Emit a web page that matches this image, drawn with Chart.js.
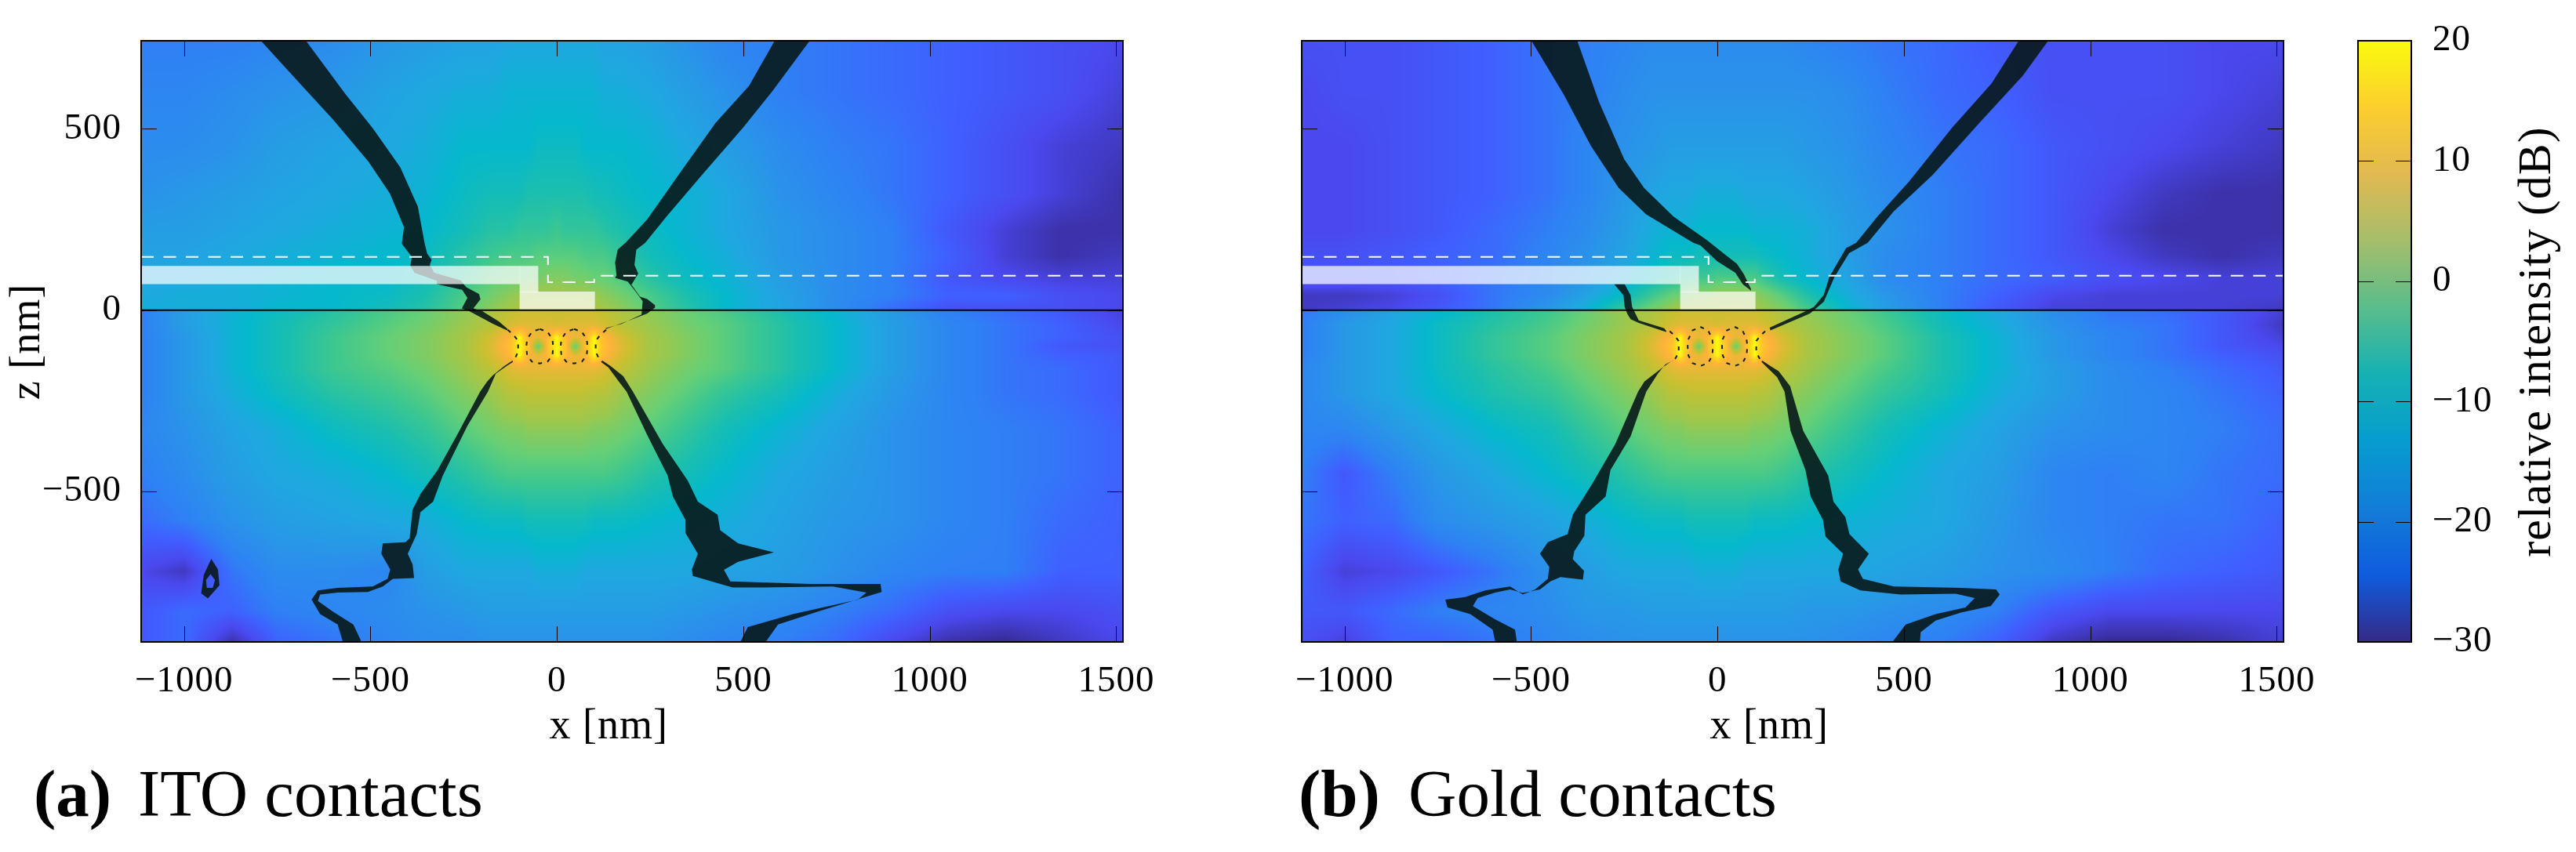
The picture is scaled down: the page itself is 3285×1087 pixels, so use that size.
<!DOCTYPE html>
<html>
<head>
<meta charset="utf-8">
<title>ITO and gold contacts</title>
<script src="https://cdn.jsdelivr.net/npm/chart.js@4"></script>
<style>
  html, body { margin: 0; padding: 0; background: #fff; }
  body { position: relative; width: 3285px; height: 1087px; overflow: hidden; }
  canvas { position: absolute; top: 0; }
</style>
</head>
<body>
<canvas id="chartA" width="1500" height="1087" style="left:0"></canvas>
<canvas id="chartB" width="1400" height="1087" style="left:1600px"></canvas>
<canvas id="chartC" width="335" height="1087" style="left:2950px"></canvas>
<script>
const xMin = -1115, xMax = 1518, zMin = -915, zMax = 743;
const xTicks = [-1000, -500, 0, 500, 1000, 1500];
const zTicks = [-500, 0, 500];
const cbarTicks = [-30, -20, -10, 0, 10, 20];

// colorbar
const cbarValues = [-30, -24.44, -18.89, -13.33, -7.78, -2.22, 3.33, 8.89, 14.44, 20];
const cbarColors = ["#352a87", "#0f5cdd", "#127dd8", "#079ccf", "#15b1b4", "#59bd8c", "#a5be6b", "#e1b952", "#fcce2e", "#f9fb0e"];

// colours of the field itself, brighter in the blues than the bar
const heatValues = [-30, -26, -23, -20, -16, -13, -10, -7, -4, -1, 3, 8, 13, 17, 20];
const heatColors = ["#372a92", "#4a48ee", "#3f60ff", "#2f80f5", "#2898e6", "#1fa8e0", "#05b8cc", "#1cbfae", "#3dc790", "#66cf76", "#9bc84e", "#c9c030", "#ffb23a", "#ffd020", "#fbfb0e"];

// field grid, dB
const gridX = [-1115, -1000, -870, -750, -600, -450, -350, -250, -175, -125, -100, -75, -50, -25, 0, 25, 50, 75, 100, 125, 175, 250, 350, 450, 600, 750, 900, 1050, 1200, 1350, 1518];
const gridZ = [743, 600, 450, 320, 220, 150, 90, 40, 1, -1, -40, -75, -100, -125, -160, -230, -330, -450, -580, -720, -830, -915];

const heatA = [
  [-20,-20,-20,-19,-18,-16,-15,-14,-14,-13,-13,-13,-13,-13,-13,-13,-13,-13,-13,-14,-14,-15,-17,-19,-20,-21,-22,-23,-24,-25,-26],
  [-19,-19,-18,-17,-16,-14,-13,-12,-12,-11,-11,-11,-11,-11,-11,-11,-11,-11,-11,-12,-12,-13,-15,-17,-20,-21,-22,-23,-24,-25,-27],
  [-18,-18,-17,-15,-14,-13,-12,-10,-10,-10,-10,-10,-9,-9,-9,-9,-9,-10,-10,-10,-10,-11,-13,-15,-18,-20,-21,-23,-25,-27,-28],
  [-17,-16,-15,-14,-13,-12,-11,-9,-8,-8,-8,-7,-7,-7,-7,-7,-7,-7,-8,-8,-9,-10,-11,-13,-17,-19,-21,-23,-25,-27,-29],
  [-15,-15,-14,-13,-12,-11,-10,-8,-6,-6,-5,-5,-5,-5,-4,-5,-5,-5,-5,-6,-7,-9,-11,-13,-16,-18,-20,-24,-27,-29,-29],
  [-14,-14,-13,-12,-11,-10,-9,-6,-4,-3,-3,-3,-2,-2,-2,-2,-2,-3,-3,-3,-5,-8,-10,-12,-16,-18,-20,-23,-27,-29,-28],
  [-13,-13,-12,-11,-10,-10,-8,-5,-2,-1,-1,0,0,1,1,1,0,0,-1,-1,-3,-6,-9,-11,-15,-18,-20,-24,-26,-27,-27],
  [-13,-12,-12,-11,-10,-9,-7,-3,0,2,3,4,4,4,4,4,4,4,3,2,0,-3,-7,-10,-14,-18,-20,-23,-23,-25,-26],
  [-12,-12,-12,-10,-10,-8,-6,-2,2,4,5,6,6,6,6,6,6,6,5,4,2,-2,-6,-10,-14,-18,-22,-25,-25,-25,-26],
  [-20,-15,-11,-9,-6,-3,-1,2,5,7,8,8,8,8,8,8,8,8,8,7,5,2,-1,-3,-7,-11,-16,-20,-22,-24,-27],
  [-20,-15,-11,-8,-5,-2,0,3,6,9,10,10,10,10,9,10,10,10,10,9,6,3,0,-2,-6,-10,-15,-19,-21,-23,-26],
  [-20,-16,-11,-8,-4,-1,1,4,9,14,20,13,11,14,20,14,11,13,20,14,9,4,1,-2,-6,-10,-15,-19,-21,-23,-25],
  [-20,-16,-11,-8,-4,-1,1,4,10,15,20,15,-2,15,20,15,-2,15,20,15,10,4,1,-2,-6,-10,-15,-19,-21,-24,-25],
  [-20,-16,-11,-8,-4,-1,1,4,9,14,20,13,11,14,20,14,11,13,20,14,9,4,1,-2,-6,-10,-15,-19,-21,-23,-24],
  [-20,-16,-11,-8,-4,-2,0,3,7,10,11,11,11,11,11,11,11,11,11,10,7,3,0,-2,-6,-10,-15,-19,-21,-22,-24],
  [-20,-16,-12,-9,-6,-4,-2,1,3,6,6,7,7,7,7,7,7,7,6,6,3,1,-2,-5,-8,-12,-16,-19,-21,-22,-24],
  [-19,-17,-14,-12,-9,-7,-5,-2,0,1,1,2,2,2,2,2,2,2,1,1,0,-2,-5,-8,-11,-14,-17,-19,-20,-21,-23],
  [-20,-18,-15,-13,-12,-10,-8,-6,-4,-3,-3,-3,-3,-3,-3,-3,-3,-3,-3,-3,-4,-6,-8,-10,-13,-15,-17,-19,-20,-21,-23],
  [-22,-20,-17,-15,-14,-13,-12,-10,-9,-9,-9,-8,-8,-8,-8,-8,-8,-8,-9,-9,-9,-10,-11,-12,-14,-16,-17,-19,-20,-22,-23],
  [-26,-28,-21,-18,-18,-19,-15,-13,-13,-13,-13,-13,-12,-12,-12,-12,-12,-13,-13,-13,-13,-13,-13,-14,-15,-17,-19,-20,-20,-23,-23],
  [-24,-22,-23,-20,-19,-18,-17,-16,-15,-15,-15,-15,-15,-15,-15,-15,-15,-15,-15,-15,-15,-15,-16,-17,-18,-20,-22,-25,-26,-26,-25],
  [-24,-22,-29,-23,-21,-19,-18,-18,-17,-17,-17,-17,-17,-17,-17,-17,-17,-17,-17,-17,-17,-17,-18,-19,-20,-22,-26,-29,-30,-28,-26]
];

const heatB = [
  [-25,-25,-25,-24,-23,-21,-20,-19,-18,-18,-18,-18,-18,-18,-18,-18,-18,-18,-18,-18,-18,-19,-20,-21,-22,-24,-25,-25,-25,-26,-26],
  [-26,-25,-25,-24,-23,-21,-20,-18,-17,-17,-17,-17,-17,-17,-17,-17,-17,-17,-17,-17,-17,-17,-18,-20,-22,-23,-25,-25,-25,-26,-27],
  [-26,-26,-25,-24,-23,-21,-19,-17,-16,-15,-15,-15,-15,-15,-15,-15,-15,-15,-15,-15,-15,-16,-17,-19,-21,-22,-24,-25,-26,-27,-28],
  [-26,-26,-25,-24,-23,-21,-19,-16,-14,-13,-13,-13,-12,-12,-12,-12,-12,-13,-13,-13,-13,-14,-16,-18,-20,-22,-24,-26,-28,-29,-29],
  [-26,-26,-25,-24,-22,-20,-18,-15,-12,-11,-11,-11,-10,-10,-10,-10,-10,-10,-11,-11,-11,-12,-15,-17,-20,-22,-24,-27,-29,-29,-29],
  [-25,-25,-24,-23,-22,-19,-17,-14,-11,-9,-9,-9,-8,-8,-8,-8,-8,-8,-8,-9,-10,-12,-15,-18,-20,-22,-24,-26,-28,-29,-28],
  [-24,-24,-24,-23,-21,-19,-16,-12,-9,-7,-6,-5,-4,-4,-3,-3,-3,-3,-3,-5,-8,-11,-14,-18,-20,-22,-23,-25,-26,-27,-27],
  [-28,-28,-27,-25,-21,-18,-14,-9,-4,-1,0,1,2,2,3,3,3,3,2,1,-2,-7,-12,-16,-20,-23,-26,-27,-27,-27,-27],
  [-28,-27,-26,-24,-21,-16,-11,-4,0,3,4,5,5,5,5,5,5,5,4,3,1,-4,-10,-15,-20,-24,-27,-27,-27,-27,-28],
  [-21,-18,-14,-11,-7,-4,-1,3,5,7,8,8,8,8,8,8,8,8,8,7,5,2,-1,-4,-9,-13,-18,-21,-22,-24,-27],
  [-20,-16,-13,-9,-6,-3,0,3,6,9,10,10,10,10,9,10,10,10,10,9,6,3,0,-3,-8,-12,-17,-20,-21,-24,-28],
  [-20,-16,-13,-9,-5,-2,1,4,9,14,20,13,11,14,20,14,11,13,20,14,9,4,1,-2,-7,-11,-16,-19,-21,-24,-27],
  [-20,-16,-13,-9,-5,-2,1,4,10,15,20,15,-2,15,20,15,-2,15,20,15,10,4,1,-2,-7,-11,-16,-19,-21,-24,-26],
  [-20,-16,-13,-9,-5,-2,1,4,9,14,20,13,11,14,20,14,11,13,20,14,9,4,1,-2,-7,-11,-16,-19,-21,-23,-25],
  [-19,-16,-13,-9,-6,-3,0,3,7,10,11,11,11,11,11,11,11,11,11,10,7,3,0,-3,-7,-11,-15,-18,-20,-22,-24],
  [-19,-16,-13,-10,-7,-5,-2,1,3,6,6,7,7,7,7,7,7,7,6,6,3,1,-2,-5,-8,-12,-15,-18,-19,-21,-23],
  [-19,-19,-16,-13,-10,-8,-5,-2,0,1,1,2,2,2,2,2,2,2,1,1,0,-2,-5,-8,-11,-14,-17,-18,-19,-20,-22],
  [-20,-24,-20,-16,-13,-10,-8,-6,-4,-3,-3,-3,-3,-3,-3,-3,-3,-3,-3,-3,-4,-6,-8,-10,-13,-15,-19,-20,-19,-21,-22],
  [-21,-23,-22,-18,-16,-14,-12,-10,-9,-9,-9,-8,-8,-8,-8,-8,-8,-8,-9,-9,-9,-10,-11,-12,-13,-16,-19,-20,-21,-21,-23],
  [-23,-27,-26,-24,-21,-17,-15,-13,-13,-13,-13,-13,-12,-12,-12,-12,-12,-13,-13,-13,-13,-13,-13,-14,-15,-17,-18,-20,-22,-23,-24],
  [-24,-24,-22,-20,-19,-18,-16,-16,-15,-15,-15,-15,-15,-15,-15,-15,-15,-15,-15,-15,-15,-16,-16,-17,-18,-20,-24,-26,-26,-26,-26],
  [-25,-27,-23,-23,-21,-19,-18,-17,-17,-17,-17,-17,-17,-17,-17,-17,-17,-17,-17,-17,-17,-17,-18,-19,-20,-23,-28,-30,-30,-29,-27]
];

// contact layout, the same in both panels
const contactBar = [[xMin, 122], [-99, 122], [-99, 72], [xMin, 72]];
const contactStep = [[-100, 122], [-50, 122], [-50, 49], [-100, 49]];
const contactPad = [[-100, 51], [102, 51], [102, 1], [-100, 1]];
const dashedEdge = [[xMin, 147], [-24, 147], [-24, 77], [100, 77], [100, 95], [xMax, 95]];
const surface = [[xMin, 0], [xMax, 0]];

// contour bands of panel a, x and z in nm
const aUpperLeft = [[-794,743],[-683,618],[-599,524],[-505,409],[-448,322],[-410,229],[-416,183],[-389,147],[-393,123],[-382,103],[-322,81],[-322,72],[-254,56],[-240,34],[-255,5],[-235,-3],[-171,-38],[-134,-56],[-132,-52],[-156,-31],[-201,-2],[-224,5],[-205,30],[-209,45],[-243,63],[-258,82],[-329,103],[-341,125],[-336,139],[-348,156],[-355,186],[-373,286],[-420,394],[-494,502],[-568,597],[-673,743]];
const aUpperRight = [[132,-52],[144,-47],[197,-27],[242,-9],[263,7],[263,14],[242,31],[223,37],[200,70],[218,101],[208,125],[213,167],[237,186],[294,258],[389,373],[499,503],[578,604],[678,743],[584,743],[515,618],[426,517],[326,373],[242,250],[184,186],[163,167],[156,131],[160,96],[156,89],[190,79],[212,50],[230,25],[227,-12],[173,-38],[130,-50]];
const aLowerLeft = [[-119,-139],[-141,-154],[-171,-179],[-187,-197],[-206,-225],[-266,-341],[-320,-441],[-366,-507],[-387,-550],[-395,-629],[-406,-640],[-467,-643],[-471,-672],[-447,-715],[-454,-741],[-494,-762],[-588,-766],[-641,-773],[-658,-798],[-635,-838],[-588,-867],[-574,-915],[-524,-915],[-546,-867],[-601,-831],[-641,-802],[-635,-784],[-588,-779],[-507,-777],[-467,-762],[-440,-741],[-383,-739],[-387,-701],[-400,-672],[-376,-618],[-366,-557],[-332,-528],[-306,-456],[-240,-319],[-185,-225],[-164,-175],[-135,-154],[-118,-143]];
const aLowerRight = [[122,-139],[144,-154],[178,-182],[204,-225],[284,-369],[351,-470],[378,-528],[431,-564],[438,-607],[486,-643],[582,-668],[486,-694],[448,-716],[465,-748],[679,-755],[868,-755],[871,-777],[700,-831],[593,-867],[560,-915],[492,-915],[512,-874],[633,-838],[807,-798],[830,-779],[740,-762],[553,-765],[471,-765],[364,-733],[362,-715],[378,-672],[345,-615],[345,-579],[311,-514],[297,-456],[244,-348],[187,-225],[166,-197],[138,-158],[118,-143]];
const aRing = [[-927,-686],[-909,-715],[-905,-759],[-936,-795],[-954,-781],[-947,-730],[-927,-686],[-929,-728],[-941,-744],[-939,-766],[-923,-766],[-917,-744],[-929,-728]];
const aLoopLeft = [[-46,-52],[-25,-60],[-12,-80],[-10,-100],[-12,-125],[-25,-142],[-46,-147],[-67,-142],[-80,-125],[-82,-100],[-80,-80],[-67,-60],[-46,-52]];
const aLoopRight = [[46,-52],[67,-60],[80,-80],[82,-100],[80,-125],[67,-142],[46,-147],[25,-142],[12,-125],[10,-100],[12,-80],[25,-60],[46,-52]];
const aPinchLeft = [[-132,-54],[-115,-70],[-104,-85],[-104,-115],[-112,-132],[-120,-140]];
const aPinchRight = [[132,-54],[115,-70],[104,-85],[104,-115],[112,-132],[120,-140]];

// contour bands of panel b
const bUpperLeft = [[-499,743],[-413,596],[-339,452],[-265,337],[-192,265],[-65,186],[-46,179],[-1,135],[48,103],[68,71],[90,54],[90,58],[71,99],[52,128],[21,153],[-28,193],[-118,258],[-197,337],[-250,416],[-318,575],[-376,743]];
const bPinchLeft = [[-277,72],[-249,72],[-233,41],[-229,9],[-211,-28],[-143,-50],[-137,-58],[-138,-60],[-211,-35],[-233,-25],[-242,-10],[-249,9],[-252,41]];
const bUpperRight = [[140,-48],[232,-5],[259,9],[285,42],[300,92],[345,171],[372,186],[429,258],[514,355],[629,503],[735,625],[808,743],[887,743],[819,647],[703,517],[577,373],[472,272],[403,186],[353,157],[314,92],[285,23],[248,-9],[142,-56]];
const bLowerLeft = [[-121,-139],[-147,-158],[-196,-197],[-213,-225],[-274,-369],[-335,-477],[-388,-564],[-402,-618],[-455,-640],[-476,-672],[-451,-708],[-455,-741],[-489,-770],[-522,-784],[-556,-762],[-623,-773],[-677,-791],[-730,-798],[-724,-820],[-663,-838],[-603,-881],[-596,-915],[-538,-915],[-543,-881],[-596,-853],[-656,-816],[-643,-794],[-596,-779],[-556,-770],[-522,-780],[-476,-770],[-448,-748],[-421,-736],[-361,-743],[-358,-719],[-388,-687],[-384,-665],[-357,-622],[-354,-564],[-300,-514],[-287,-441],[-233,-348],[-191,-225],[-160,-175],[-140,-150],[-118,-138]];
const bLowerRight = [[120,-139],[142,-154],[164,-168],[195,-210],[199,-225],[230,-333],[297,-456],[311,-528],[343,-571],[354,-618],[406,-672],[377,-715],[390,-741],[473,-762],[653,-766],[747,-770],[757,-784],[733,-816],[653,-834],[585,-856],[545,-888],[543,-915],[469,-915],[505,-867],[585,-838],[665,-820],[690,-794],[639,-782],[491,-784],[383,-773],[330,-748],[324,-715],[337,-672],[290,-625],[283,-579],[250,-514],[236,-441],[196,-333],[180,-225],[160,-185],[118,-143]];
const bLoopLeft = [[-46,-46],[-25,-56],[-14,-80],[-12,-100],[-14,-125],[-25,-146],[-46,-154],[-67,-146],[-78,-125],[-80,-100],[-78,-80],[-67,-56],[-46,-46]];
const bLoopRight = [[46,-46],[67,-56],[78,-80],[80,-100],[78,-125],[67,-146],[46,-154],[25,-146],[14,-125],[12,-100],[14,-80],[25,-56],[46,-46]];
const bDashLeft = [[-128,-58],[-115,-70],[-104,-85],[-104,-115],[-112,-132],[-120,-140]];
const bDashRight = [[128,-58],[115,-70],[104,-85],[104,-115],[112,-132],[120,-140]];

const fontName = '"Liberation Serif", serif';
const bandFill = "rgba(8, 24, 26, 0.9)";
const contactFill = "rgba(255, 255, 255, 0.72)";

function hexRgb(hex) {
    return [1, 3, 5].map(i => parseInt(hex.slice(i, i + 2), 16));
}

// value -> rgb, stepping along the colour stops
function heatColor(v) {
    let i = 0;
    while (i < heatValues.length - 2 && v > heatValues[i + 1]) i++;
    const t = Math.min(1, Math.max(0, (v - heatValues[i]) / (heatValues[i + 1] - heatValues[i])));
    const a = hexRgb(heatColors[i]), b = hexRgb(heatColors[i + 1]);
    return a.map((c, k) => c + (b[k] - c) * t);
}

function bracket(list, v, descending) {
    for (let i = 0; i < list.length - 1; i++) {
        const lo = list[i], hi = list[i + 1];
        if (descending ? v >= hi : v <= hi) return [i, (v - lo) / (hi - lo)];
    }
    return [list.length - 2, 1];
}

// paints the field grid into the plot area through the chart's scales
const fieldPlugin = {
    id: "field",
    beforeDatasetsDraw(chart, args, opts) {
        if (!opts.grid) return;
        const { ctx, chartArea: area, scales } = chart;
        const w = Math.round(area.right - area.left), h = Math.round(area.bottom - area.top);
        const img = ctx.createImageData(w, h);
        const cols = [];
        for (let px = 0; px < w; px++) cols.push(bracket(gridX, scales.x.getValueForPixel(area.left + px + 0.5), false));
        for (let py = 0; py < h; py++) {
            const [r, tz] = bracket(gridZ, scales.y.getValueForPixel(area.top + py + 0.5), true);
            for (let px = 0; px < w; px++) {
                const [c, tx] = cols[px];
                const top = opts.grid[r][c] * (1 - tx) + opts.grid[r][c + 1] * tx;
                const bot = opts.grid[r + 1][c] * (1 - tx) + opts.grid[r + 1][c + 1] * tx;
                const rgb = heatColor(top * (1 - tz) + bot * tz);
                const o = (py * w + px) * 4;
                img.data[o] = rgb[0]; img.data[o + 1] = rgb[1]; img.data[o + 2] = rgb[2]; img.data[o + 3] = 255;
            }
        }
        ctx.putImageData(img, Math.round(area.left), Math.round(area.top));
    }
};

// closed regions: fill the polygon through the points the scales placed
const polygonPlugin = {
    id: "polygons",
    beforeDatasetDraw(chart, args) {
        const ds = chart.data.datasets[args.index];
        if (!ds.polyFill) return;
        const { ctx, chartArea: area } = chart;
        ctx.save();
        ctx.beginPath();
        ctx.rect(area.left, area.top, area.right - area.left, area.bottom - area.top);
        ctx.clip();
        ctx.beginPath();
        args.meta.data.forEach((p, i) => i ? ctx.lineTo(p.x, p.y) : ctx.moveTo(p.x, p.y));
        ctx.closePath();
        ctx.fillStyle = ds.polyFill;
        ctx.fill("evenodd");
        ctx.restore();
    }
};

// frame, inward ticks on all four sides, and the titles
const framePlugin = {
    id: "frame",
    beforeDraw(chart) {
        chart.ctx.letterSpacing = "1px";
    },
    beforeDatasetsDraw(chart, args, opts) {
        if (!opts.gradient) return;
        const { ctx, chartArea: area, scales } = chart;
        const y0 = scales.y.getPixelForValue(cbarValues[0]), y1 = scales.y.getPixelForValue(cbarValues[cbarValues.length - 1]);
        const g = ctx.createLinearGradient(0, y0, 0, y1);
        cbarValues.forEach((v, i) => g.addColorStop((v - cbarValues[0]) / (cbarValues[cbarValues.length - 1] - cbarValues[0]), cbarColors[i]));
        ctx.fillStyle = g;
        ctx.fillRect(area.left, area.top, area.right - area.left, area.bottom - area.top);
    },
    afterDatasetsDraw(chart, args, opts) {
        const { ctx, chartArea: a, scales } = chart;
        const len = 20;
        ctx.save();
        ctx.strokeStyle = "#000";
        ctx.lineWidth = 1;
        ctx.beginPath();
        if (opts.ticksX) scales.x.ticks.forEach(t => {
            const x = Math.round(scales.x.getPixelForValue(t.value)) + 0.5;
            ctx.moveTo(x, a.top); ctx.lineTo(x, a.top + len);
            ctx.moveTo(x, a.bottom); ctx.lineTo(x, a.bottom - len);
        });
        scales.y.ticks.forEach(t => {
            const y = Math.round(scales.y.getPixelForValue(t.value)) + 0.5;
            ctx.moveTo(a.left, y); ctx.lineTo(a.left + len, y);
            ctx.moveTo(a.right, y); ctx.lineTo(a.right - len, y);
        });
        ctx.stroke();
        ctx.lineWidth = 2;
        ctx.strokeRect(a.left, a.top, a.right - a.left, a.bottom - a.top);
        ctx.restore();
    },
    afterDraw(chart, args, opts) {
        const { ctx, scales } = chart;
        ctx.save();
        ctx.fillStyle = "#000";
        ctx.textBaseline = "alphabetic";
        if (opts.xTitle) {
            ctx.font = "54px " + fontName;
            ctx.textAlign = "center";
            ctx.fillText(opts.xTitle, scales.x.getPixelForValue(opts.xTitleAt), 942);
        }
        if (opts.yTitle) {
            ctx.save();
            ctx.font = opts.yTitleSize + "px " + fontName;
            ctx.textAlign = "center";
            ctx.translate(opts.yTitleX, 436);
            ctx.rotate(-Math.PI / 2);
            ctx.fillText(opts.yTitle, 0, 0);
            ctx.restore();
        }
        if (opts.tag) {
            ctx.letterSpacing = "0px";
            ctx.textAlign = "left";
            ctx.font = "bold 85px " + fontName;
            ctx.fillText(opts.tag, opts.tagX, 1041);
            ctx.font = "85px " + fontName;
            ctx.fillText(opts.caption, opts.captionX, 1041);
        }
        ctx.restore();
    }
};

Chart.register(fieldPlugin, polygonPlugin, framePlugin);

const minusSign = v => String(v).replace("-", "\u2212");
const toPoints = pts => pts.map(([x, y]) => ({ x, y }));

function polygon(pts, fill, order) {
    return { data: toPoints(pts), polyFill: fill, showLine: false, pointRadius: 0, order };
}

function path(pts, color, width, dash, order) {
    return { data: toPoints(pts), showLine: true, pointRadius: 0, borderColor: color, borderWidth: width, borderDash: dash, tension: 0, order };
}

function fieldDatasets(bands, dashed) {
    return [
        path(dashedEdge, "#fff", 2, [16, 12.5], 0),
        path(surface, "#000", 2, [], 1),
        polygon(contactBar, contactFill, 2),
        polygon(contactStep, contactFill, 2),
        polygon(contactPad, contactFill, 2),
        ...dashed.map(d => path(d, "#14201a", 2, [5, 7], 3)),
        ...bands.map(b => polygon(b, bandFill, 4))
    ];
}

function fieldChart(id, datasets, padding, yWidth, yLabels, plugins) {
    return new Chart(document.getElementById(id), {
        type: "scatter",
        data: { datasets },
        options: {
            responsive: false,
            animation: false,
            devicePixelRatio: 1,
            layout: { padding },
            plugins: Object.assign({ legend: { display: false }, tooltip: { enabled: false } }, plugins),
            scales: {
                x: {
                    type: "linear", min: xMin, max: xMax,
                    grid: { display: false }, border: { display: false },
                    afterBuildTicks: s => { s.ticks = xTicks.map(value => ({ value })); },
                    afterFit: s => { s.height = 268; },
                    ticks: { color: "#000", padding: 14, autoSkip: false, maxRotation: 0, minRotation: 0, font: { family: fontName, size: 47 }, callback: minusSign }
                },
                y: {
                    type: "linear", min: zMin, max: zMax,
                    grid: { display: false }, border: { display: false },
                    afterBuildTicks: s => { s.ticks = zTicks.map(value => ({ value })); },
                    afterFit: s => { s.width = yWidth; },
                    ticks: { display: yLabels, color: "#000", padding: 17, autoSkip: false, font: { family: fontName, size: 47 }, callback: minusSign }
                }
            }
        }
    });
}

fieldChart("chartA",
    fieldDatasets([aUpperLeft, aUpperRight, aLowerLeft, aLowerRight, aRing], [aLoopLeft, aLoopRight, aPinchLeft, aPinchRight]),
    { left: 0, top: 52, right: 68, bottom: 0 }, 180, true,
    {
        field: { grid: heatA },
        frame: { ticksX: true, xTitle: "x [nm]", xTitleAt: 139, yTitle: "z [nm]", yTitleSize: 54, yTitleX: 50, tag: "(a)", tagX: 43, caption: "ITO contacts", captionX: 176 }
    });

fieldChart("chartB",
    fieldDatasets([bUpperLeft, bPinchLeft, bUpperRight, bLowerLeft, bLowerRight], [bLoopLeft, bLoopRight, bDashLeft, bDashRight]),
    { left: 0, top: 52, right: 88, bottom: 0 }, 60, false,
    {
        field: { grid: heatB },
        frame: { ticksX: true, xTitle: "x [nm]", xTitleAt: 139, tag: "(b)", tagX: 56, caption: "Gold contacts", captionX: 196 }
    });

// colorbar
new Chart(document.getElementById("chartC"), {
    type: "scatter",
    data: { datasets: [{ data: cbarValues.map(y => ({ x: 0, y })), pointRadius: 0 }] },
    options: {
        responsive: false,
        animation: false,
        devicePixelRatio: 1,
        layout: { padding: { left: 57, top: 52, right: 0, bottom: 268 } },
        plugins: {
            legend: { display: false },
            tooltip: { enabled: false },
            frame: { gradient: true, yTitle: "relative intensity (dB)", yTitleSize: 60, yTitleX: 302 }
        },
        scales: {
            x: { display: false, min: -1, max: 1 },
            y: {
                type: "linear", position: "right", min: -30, max: 20,
                grid: { display: false }, border: { display: false },
                afterBuildTicks: s => { s.ticks = cbarTicks.map(value => ({ value })); },
                afterFit: s => { s.width = 210; },
                ticks: { color: "#000", padding: 19, autoSkip: false, font: { family: fontName, size: 47 }, callback: minusSign }
            }
        }
    }
});
</script>
</body>
</html>
